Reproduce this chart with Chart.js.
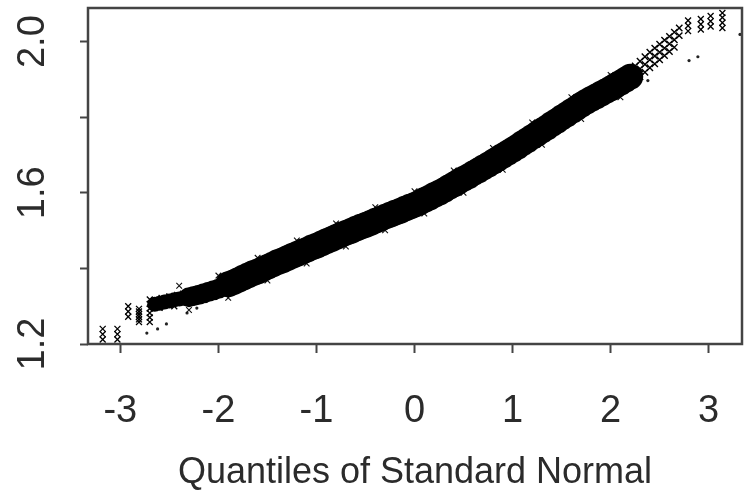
<!DOCTYPE html>
<html><head><meta charset="utf-8">
<script src="https://cdn.jsdelivr.net/npm/chart.js@4/dist/chart.umd.min.js"></script>
<style>html,body{margin:0;padding:0;background:#fff;}canvas{display:block}</style>
</head><body>
<canvas id="c" width="748" height="495"></canvas>
<script>
// ---- axis definitions ----
const X_TICKS = [-3, -2, -1, 0, 1, 2, 3];
const X_TICK_LABELS = ['-3', '-2', '-1', '0', '1', '2', '3'];
const Y_TICKS = [1.2, 1.4, 1.6, 1.8, 2.0];
const Y_TICK_LABELS = ['1.2', '', '1.6', '', '2.0'];
const X_TITLE = 'Quantiles of Standard Normal';
const X_RANGE = [-3.33, 3.34];
const Y_RANGE = [1.2, 2.089];

// ---- dense central band (theoretical quantile, sample value) ----
const BAND_Q = [-2.65,-2.60,-2.55,-2.50,-2.45,-2.40,-2.35,-2.30,-2.25,-2.20,-2.15,-2.10,-2.05,-2.00,
  -1.95,-1.90,-1.85,-1.80,-1.75,-1.70,-1.65,-1.60,-1.55,-1.50,-1.45,-1.40,-1.35,-1.30,-1.25,-1.20,
  -1.15,-1.10,-1.05,-1.00,-0.95,-0.90,-0.85,-0.80,-0.75,-0.70,-0.65,-0.60,-0.55,-0.50,-0.45,-0.40,
  -0.35,-0.30,-0.25,-0.20,-0.15,-0.10,-0.05,0.00,0.05,0.10,0.15,0.20,0.25,0.30,0.35,0.40,0.45,0.50,
  0.55,0.60,0.65,0.70,0.75,0.80,0.85,0.90,0.95,1.00,1.05,1.10,1.15,1.20,1.25,1.30,1.35,1.40,1.45,
  1.50,1.55,1.60,1.65,1.70,1.75,1.80,1.85,1.90,1.95,2.00,2.05,2.10,2.15,2.20];
const BAND_Y = [1.305,1.308,1.311,1.314,1.317,1.319,1.321,1.324,1.327,1.330,1.334,1.338,1.342,1.346,
  1.352,1.358,1.363,1.369,1.375,1.381,1.387,1.392,1.398,1.404,1.410,1.416,1.421,1.427,1.433,1.438,
  1.444,1.449,1.455,1.460,1.466,1.472,1.477,1.483,1.489,1.494,1.499,1.505,1.510,1.515,1.520,1.526,
  1.531,1.537,1.542,1.547,1.552,1.558,1.563,1.568,1.574,1.581,1.587,1.594,1.600,1.607,1.615,1.622,1.630,1.637,
  1.644,1.652,1.659,1.667,1.674,1.682,1.690,1.698,1.706,1.714,1.722,1.731,1.739,1.748,1.756,1.765,1.773,1.782,1.790,
  1.799,1.807,1.816,1.824,1.833,1.841,1.848,1.855,1.862,1.869,1.876,1.884,1.891,1.899,1.907];

// ---- scattered marks along the band edges ----
const FRINGE_Q = [-2.40,-2.30,-2.00,-1.90,-1.60,-1.50,-1.20,-1.10,-0.80,-0.70,-0.40,-0.30,
  0.00,0.10,0.40,0.50,0.80,0.90,1.20,1.30,1.60,1.70,2.00,2.10];
const FRINGE_Y = [1.354,1.290,1.381,1.322,1.428,1.368,1.474,1.413,1.519,1.458,1.562,1.501,
  1.604,1.545,1.659,1.600,1.719,1.661,1.786,1.727,1.853,1.795,1.912,1.853];

// ---- upper sparse part of the band ----
const UPPER_Q = [2.20,2.25,2.30,2.35,2.40,2.45,2.50,2.55,2.60,2.65,2.70,
  2.20,2.25,2.30,2.35,2.40,2.45,2.50,2.55,2.60,2.65,2.70,
  2.20,2.25,2.30,2.35,2.40,2.45,2.50,2.55,2.60,2.65];
const UPPER_Y = [1.928,1.936,1.948,1.960,1.972,1.983,1.993,2.004,2.014,2.025,2.036,
  1.907,1.917,1.928,1.940,1.952,1.962,1.972,1.983,1.994,2.005,2.016,
  1.888,1.897,1.907,1.919,1.931,1.941,1.952,1.963,1.974,1.985];

// ---- lower tail (stacked marks) ----
const LOW_TAIL_Q = [-3.18,-3.18,-3.18,-3.03,-3.03,-3.03,-2.92,-2.92,-2.92,
  -2.81,-2.81,-2.81,-2.81,-2.81,-2.81,-2.70,-2.70,-2.70,-2.70,-2.70,-2.70,
  -2.58,-2.50,-2.42,-2.36,-2.28,-2.60,-2.45];
const LOW_TAIL_Y = [1.212,1.226,1.240,1.212,1.226,1.240,1.272,1.286,1.300,
  1.258,1.265,1.272,1.279,1.286,1.293,1.258,1.270,1.282,1.294,1.306,1.318,
  1.322,1.326,1.330,1.333,1.337,1.296,1.300];

// ---- upper tail (stacked marks) ----
const HIGH_TAIL_Q = [2.79,2.79,2.79,2.92,2.92,2.92,3.02,3.02,3.02,3.14,3.14,3.14,3.14];
const HIGH_TAIL_Y = [2.028,2.042,2.056,2.032,2.046,2.060,2.040,2.054,2.068,2.036,2.050,2.064,2.076];

// ---- isolated points ----
const OUTLIER_Q = [-2.73,-2.62,-2.53,-2.32,-2.22,2.38,2.80,2.89,3.32];
const OUTLIER_Y = [1.229,1.240,1.253,1.282,1.295,1.897,1.950,1.960,2.019];

const pairs = (qs, ys) => qs.map((q, i) => ({ x: q, y: ys[i] }));

// font: prefer a narrow sans if present
function pickFont() {
  const c = document.createElement('canvas').getContext('2d');
  c.font = "100px 'Liberation Sans'";
  const w1 = c.measureText(X_TITLE).width;
  c.font = "100px 'Liberation Sans Narrow', 'Liberation Sans'";
  const w2 = c.measureText(X_TITLE).width;
  if (w2 < w1 * 0.9) return { family: "'Liberation Sans Narrow', 'Liberation Sans', Arial, sans-serif", size: 42, tick: 42 };
  return { family: "'Liberation Sans', Arial, sans-serif", size: 36, tick: 38 };
}
const F = pickFont();
const titleFont = { family: F.family, size: F.size, lineHeight: 1.2 };
// x tick labels: tall line box places the label centre ~58px below the axis
const xTickFont = { family: F.family, size: F.tick, lineHeight: (117 / F.tick) };
const yTickFont = { family: F.family, size: F.tick, lineHeight: 1.2 };
const INK = '#2b2b2b';
const FRAME = '#444';

const framePlugin = {
  id: 'frame',
  afterDatasetsDraw(chart) {
    const { ctx, chartArea: a } = chart;
    ctx.save();
    ctx.strokeStyle = FRAME;
    ctx.lineWidth = 2.5;
    ctx.strokeRect(a.left, a.top, a.right - a.left, a.bottom - a.top);
    ctx.restore();
  }
};

new Chart(document.getElementById('c').getContext('2d'), {
  type: 'scatter',
  data: {
    datasets: [
      { data: pairs(BAND_Q, BAND_Y), pointStyle: 'circle', backgroundColor: '#000', borderWidth: 0,
        pointRadius: c => (c.raw && c.raw.x < -2.3) ? 7.5 : ((c.raw && c.raw.x < -1.9) ? 10 : 13) },
      { data: pairs(FRINGE_Q, FRINGE_Y), pointStyle: 'crossRot', borderColor: '#111', borderWidth: 1.1, pointRadius: 4 },
      { data: pairs(UPPER_Q, UPPER_Y), pointStyle: 'crossRot', borderColor: '#000', borderWidth: 1.4, pointRadius: 4.5 },
      { data: pairs(LOW_TAIL_Q, LOW_TAIL_Y), pointStyle: 'crossRot', borderColor: '#000', borderWidth: 1.3, pointRadius: 4.2 },
      { data: pairs(HIGH_TAIL_Q, HIGH_TAIL_Y), pointStyle: 'crossRot', borderColor: '#000', borderWidth: 1.3, pointRadius: 4.2 },
      { data: pairs(OUTLIER_Q, OUTLIER_Y), pointStyle: 'circle', backgroundColor: '#222', borderWidth: 0, pointRadius: 1.6 }
    ]
  },
  options: {
    responsive: false,
    animation: false,
    devicePixelRatio: 1,
    layout: { autoPadding: false, padding: { top: 8, right: 6, bottom: 0, left: 0 } },
    plugins: { legend: { display: false }, tooltip: { enabled: false } },
    scales: {
      x: {
        type: 'linear', min: X_RANGE[0], max: X_RANGE[1],
        afterBuildTicks: s => { s.ticks = X_TICKS.map(v => ({ value: v })); },
        afterFit: s => { s.height = 151; s.paddingLeft = 0; s.paddingRight = 0; },
        grid: { drawOnChartArea: false, drawTicks: true, tickLength: 9, tickColor: FRAME, tickWidth: 2 },
        border: { display: false },
        ticks: { font: xTickFont, color: INK, padding: 0, maxRotation: 0, autoSkip: false,
                 callback: (v, i) => X_TICK_LABELS[i] },
        title: { display: true, text: X_TITLE, font: titleFont, color: INK, padding: { top: 0, bottom: 0 } }
      },
      y: {
        type: 'linear', min: Y_RANGE[0], max: Y_RANGE[1],
        afterBuildTicks: s => { s.ticks = Y_TICKS.map(v => ({ value: v })); },
        afterFit: s => { s.width = 88; s.paddingTop = 0; s.paddingBottom = 0; },
        grid: { drawOnChartArea: false, drawTicks: true, tickLength: 8, tickColor: FRAME, tickWidth: 2 },
        border: { display: false },
        ticks: { font: yTickFont, color: INK, padding: 20, minRotation: 90, maxRotation: 90, crossAlign: 'center',
                 autoSkip: false, callback: (v, i) => Y_TICK_LABELS[i] }
      }
    }
  },
  plugins: [framePlugin]
});
</script>
</body></html>
